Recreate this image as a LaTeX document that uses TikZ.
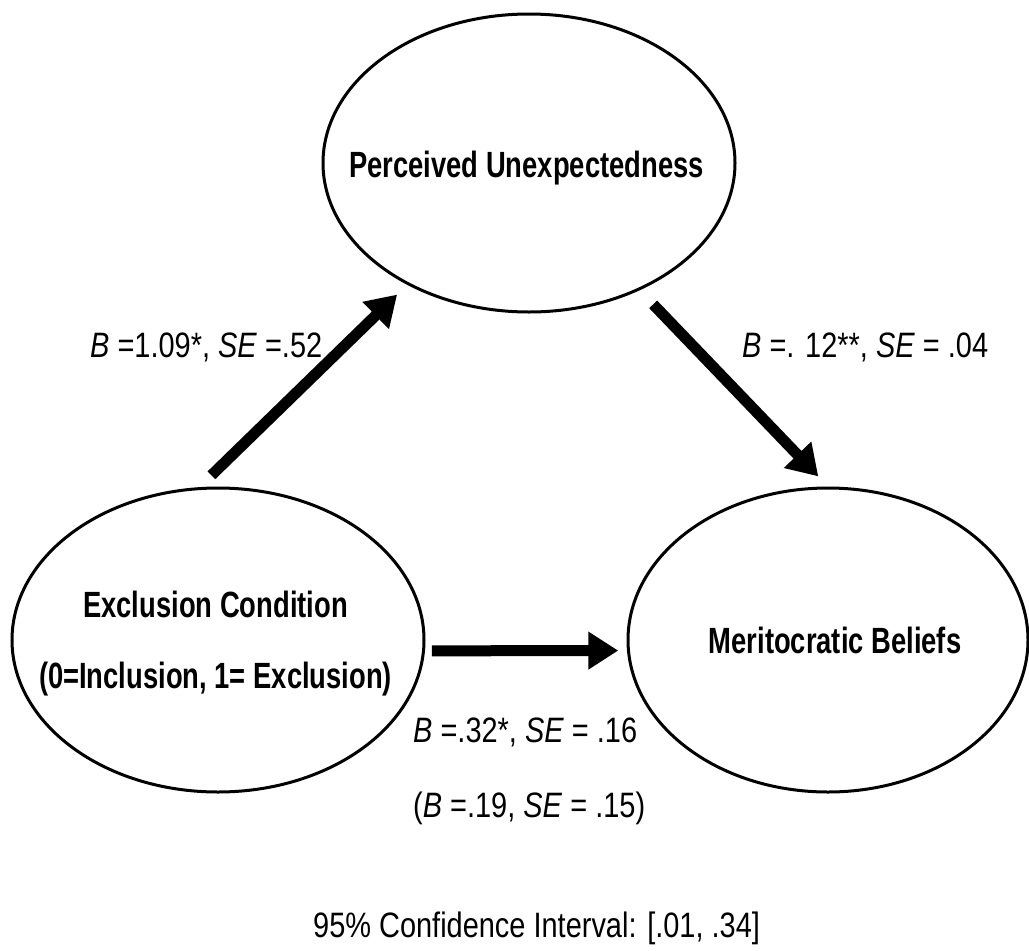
\documentclass[tikz,border=0pt]{standalone}
\usepackage{fontspec}
\setmainfont{Liberation Sans}[FakeStretch=0.82]
\newfontfamily\narrowbold{Liberation Sans}[FakeStretch=0.75]
\usetikzlibrary{shapes.geometric,arrows.meta}
\begin{document}
\begin{tikzpicture}[x=1pt,y=-1pt,
  oval/.style={ellipse, draw, line width=3pt, inner sep=0pt},
  title/.style={anchor=base, inner sep=0pt, font=\narrowbold\bfseries\fontsize{36.5}{44}\selectfont},
  arr/.style={-{Triangle[length=30pt,width=36pt]}, line width=11pt},
  lab/.style={anchor=base west, inner sep=0pt, font=\fontsize{35.3}{42}\selectfont}]
\useasboundingbox (0,0) rectangle (1029,951);
% ellipses
\node[oval, minimum width=412pt, minimum height=298pt] (pu) at (529,163) {};
\node[oval, minimum width=412pt, minimum height=304pt] (ex) at (218,640) {};
\node[oval, minimum width=400pt, minimum height=304pt] (mb) at (828,640) {};
% ellipse texts
\node[title] (tpu) at (526.5,177) {Perceived Unexpectedness};
\node[title] (tex1) at (215.5,617) {Exclusion Condition};
\node[title] (tex2) at (215.5,688) {(0=Inclusion, 1= Exclusion)};
\node[title] (tmb) at (835,653) {Meritocratic Beliefs};
% arrows
\draw[arr, shorten <=17pt, shorten >=14pt] (ex.97.5) -- (pu.225);
\draw[arr, shorten <=19.5pt, shorten >=14pt] (pu.311.3) -- (mb.90.2);
\draw[arr, shorten <=7pt, shorten >=8.7pt] (ex.-3.6) -- (mb.183.7);
% labels
\node[lab] (l1) at (90,357) {\textit{B} =1.09*, \textit{SE} =.52};
\node[lab] (l2) at (742,357) {\textit{B} =. 12**, \textit{SE} = .04};
\node[lab] (l3) at (413,742) {\textit{B} =.32*, \textit{SE} = .16};
\node[lab] (l4) at (413,817) {(\textit{B} =.19, \textit{SE} = .15)};
\node[lab] (ci) at (313,937) {95\% Confidence Interval: [.01, .34]};
\end{tikzpicture}
\end{document}
